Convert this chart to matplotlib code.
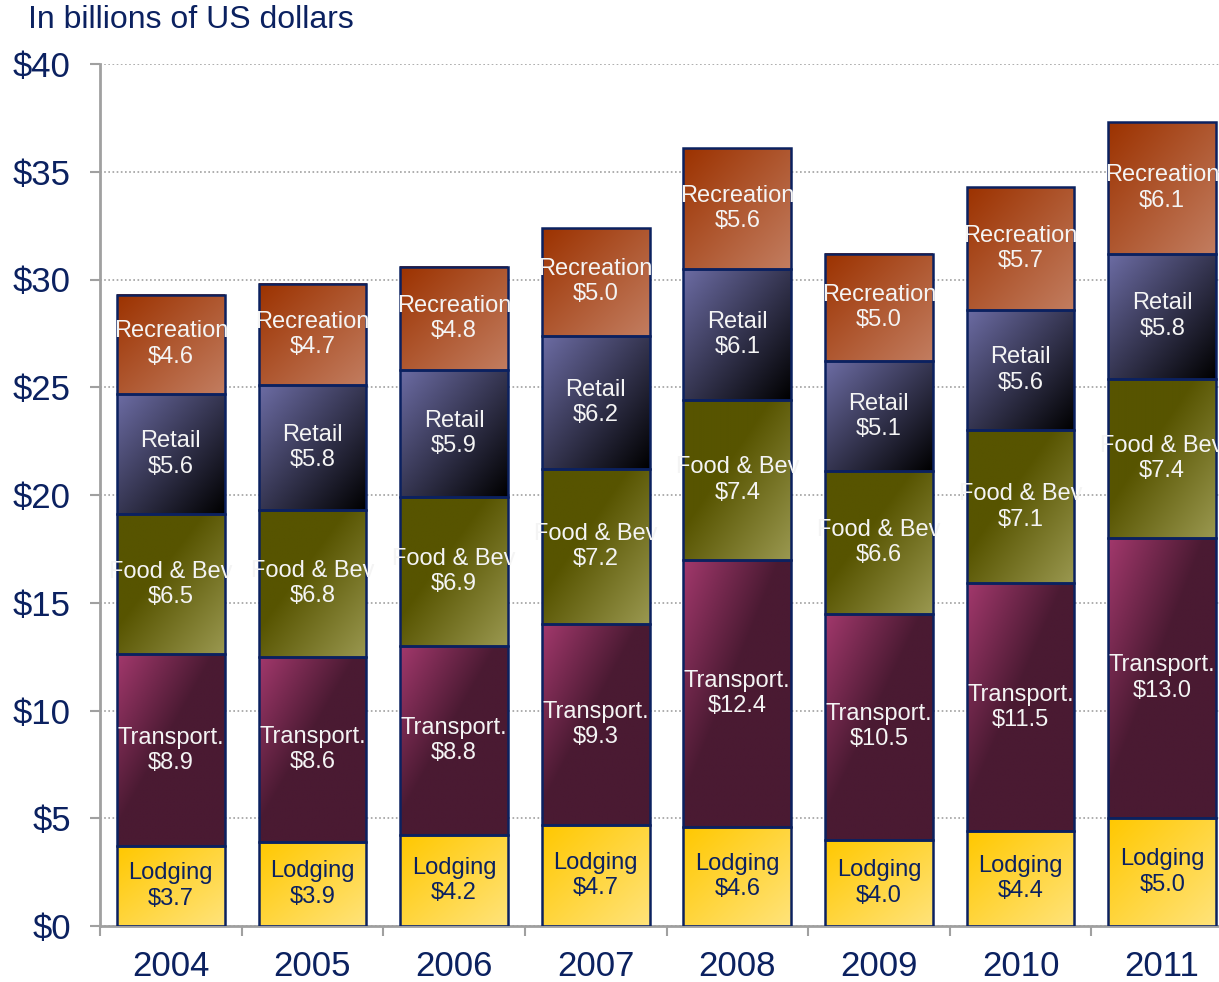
import numpy as np
import matplotlib
matplotlib.use("Agg")
import matplotlib.pyplot as plt
from matplotlib.colors import to_rgb

plt.rcParams['font.family'] = ['Liberation Sans', 'DejaVu Sans']

years = ["2004", "2005", "2006", "2007", "2008", "2009", "2010", "2011"]
categories = ["Lodging", "Transport.", "Food & Bev", "Retail", "Recreation"]
lodging = [3.7, 3.9, 4.2, 4.7, 4.6, 4.0, 4.4, 5.0]
transport = [8.9, 8.6, 8.8, 9.3, 12.4, 10.5, 11.5, 13.0]
food_bev = [6.5, 6.8, 6.9, 7.2, 7.4, 6.6, 7.1, 7.4]
retail = [5.6, 5.8, 5.9, 6.2, 6.1, 5.1, 5.6, 5.8]
recreation = [4.6, 4.7, 4.8, 5.0, 5.6, 5.0, 5.7, 6.1]
series = [lodging, transport, food_bev, retail, recreation]

# (top-left colour, bottom-right colour, blend start, blend end)
gradients = [
    ("#FFC800", "#FFE37A", 0.0, 1.0),
    ("#A2386C", "#4A1A32", 0.0, 0.45),
    ("#575400", "#9A9850", 0.4, 1.0),
    ("#6C6CA4", "#000000", 0.0, 1.0),
    ("#9C3200", "#C27D60", 0.0, 1.0),
]
text_colors = ["#0B2160", "#F4F4F4", "#F4F4F4", "#F4F4F4", "#F4F4F4"]
navy = "#0B2160"
grey = "#A0A0A0"


def gradient_image(c1, c2, start, stop, n=80):
    u = np.linspace(0, 1, n)
    uu, vv = np.meshgrid(u, u)
    t = np.clip(((uu + vv) / 2 - start) / (stop - start), 0, 1)[..., None]
    a = np.array(to_rgb(c1))
    b = np.array(to_rgb(c2))
    return a * (1 - t) + b * t


fig = plt.figure(figsize=(12.19, 9.82), dpi=100)
ax = fig.add_axes([100 / 1219, 56 / 982, 1133 / 1219, 862 / 982])

x = np.arange(len(years))
bottom = np.zeros(len(years))
for i, vals in enumerate(series):
    vals = np.array(vals)
    bars = ax.bar(x, vals, width=0.76, bottom=bottom, facecolor="none",
                  edgecolor=navy, linewidth=1.8, zorder=3)
    img = gradient_image(*gradients[i])
    for rect, v in zip(bars.patches, vals):
        x0, y0 = rect.get_x(), rect.get_y()
        w, h = rect.get_width(), rect.get_height()
        ax.imshow(img, extent=(x0, x0 + w, y0, y0 + h), origin="upper",
                  aspect="auto", interpolation="bilinear", zorder=2)
        t = ax.text(x0 + w / 2, y0 + h / 2, f"{categories[i]}\n${v:.1f}",
                    ha="center", va="center", fontsize=17,
                    color=text_colors[i], linespacing=1.2, zorder=4)
        t.set_clip_path(rect)
    bottom += vals

ax.set_xlim(-0.5, len(years) - 0.5)
ax.set_ylim(0, 40)
ax.set_yticks(range(0, 41, 5))
ax.set_yticklabels([f"${v}" for v in range(0, 41, 5)])
ax.set_xticks(x)
ax.set_xticklabels(years)
ax.set_xticks(np.arange(-0.5, len(years)), minor=True)

ax.tick_params(axis="y", length=7, width=1.5, color=grey, pad=14,
               labelsize=25, labelcolor=navy)
ax.tick_params(axis="x", which="major", length=0, pad=17,
               labelsize=25, labelcolor=navy)
ax.tick_params(axis="x", which="minor", length=7, width=1.5, color=grey)

ax.grid(axis="y", color=grey, linestyle=(0, (1, 1.5)), linewidth=1.2, zorder=0)
ax.set_axisbelow(True)
for side in ("top", "right"):
    ax.spines[side].set_visible(False)
for side in ("left", "bottom"):
    ax.spines[side].set_color(grey)
    ax.spines[side].set_linewidth(2)

fig.text(28 / 1219, 1 - 20 / 982, "In billions of US dollars", fontsize=23,
         color=navy, va="center", ha="left")

fig.savefig("out.png", dpi=100)
